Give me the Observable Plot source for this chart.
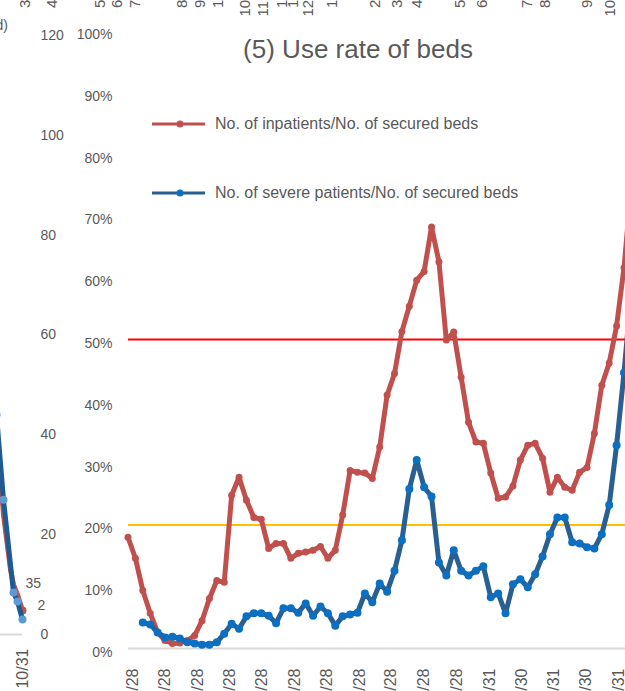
<!DOCTYPE html>
<html>
<head>
<meta charset="utf-8">
<script src="https://cdn.jsdelivr.net/npm/d3@7"></script>
<script src="https://cdn.jsdelivr.net/npm/@observablehq/plot@0.6"></script>
<style>
  body { margin: 0; background: #fff; }
  #wrap { position: relative; width: 625px; height: 691px; overflow: hidden; background: #fff;
          font-family: "Liberation Sans", Arial, sans-serif; color: #595959; }
  #wrap > .layer { position: absolute; left: 0; top: 0; }
  .title { position: absolute; left: 0; width: 716px; top: 34px; text-align: center; font-size: 26px; color: #595959; white-space: nowrap; }
  .legend { position: absolute; left: 150px; font-size: 16px; color: #595959; white-space: nowrap; display: flex; align-items: center; }
  .legend svg { margin-right: 8px; }
</style>
</head>
<body>
<div id="wrap"></div>
<script>
// ---------- data ----------
const dates = [
  "2020-04-23","2020-04-30","2020-05-07","2020-05-14","2020-05-21","2020-05-28","2020-06-04","2020-06-11",
  "2020-06-18","2020-06-25","2020-07-02","2020-07-09","2020-07-16","2020-07-23","2020-07-30","2020-08-06",
  "2020-08-13","2020-08-20","2020-08-27","2020-09-03","2020-09-10","2020-09-17","2020-09-24","2020-10-01",
  "2020-10-08","2020-10-15","2020-10-22","2020-10-29","2020-11-05","2020-11-12","2020-11-19","2020-11-26",
  "2020-12-03","2020-12-10","2020-12-17","2020-12-24","2020-12-31","2021-01-07","2021-01-14","2021-01-21",
  "2021-01-28","2021-02-04","2021-02-11","2021-02-18","2021-02-25","2021-03-04","2021-03-11","2021-03-18",
  "2021-03-25","2021-04-01","2021-04-08","2021-04-15","2021-04-22","2021-04-29","2021-05-06","2021-05-13",
  "2021-05-20","2021-05-27","2021-06-03","2021-06-10","2021-06-17","2021-06-24","2021-07-01","2021-07-08",
  "2021-07-15","2021-07-22","2021-07-29","2021-08-05","2021-08-12"
];
// No. of inpatients / No. of secured beds (%)
const inpatientRate = [
  18.0,14.6,9.4,5.7,2.6,1.3,0.8,0.9,1.3,2.1,4.5,8.1,11.0,10.7,24.8,27.7,24.0,21.2,20.9,16.2,
  17.0,17.0,14.6,15.4,15.6,15.9,16.5,14.6,15.9,21.6,28.8,28.5,28.4,27.5,32.6,41.0,44.5,51.3,55.4,59.6,
  61.0,68.2,62.6,49.9,51.2,43.9,36.6,33.4,33.2,28.4,24.3,24.5,26.3,30.5,32.9,33.2,30.8,25.3,27.7,26.1,
  25.6,28.5,29.3,34.8,42.6,46.2,52.2,61.6,75.0
];
// No. of severe patients / No. of secured beds (%)
const severeRate = [
  null,null,4.2,3.9,2.6,1.8,1.9,1.6,1.0,0.8,0.6,0.6,1.0,2.4,4.0,3.2,5.2,5.7,5.7,5.3,
  4.1,6.5,6.5,5.8,7.3,5.3,6.8,5.7,3.7,5.2,5.5,5.8,8.9,7.5,10.5,9.2,12.6,17.5,25.8,30.5,
  26.1,24.6,13.9,11.8,15.9,12.6,11.8,12.6,13.3,8.3,8.9,5.7,10.4,11.2,9.9,12.0,14.9,18.5,21.2,21.2,
  17.2,17.0,16.4,16.2,18.5,23.2,32.9,44.6,58.0
];
const yTicks = [0,10,20,30,40,50,60,70,80,90,100];
const xTickDates = [
  "2020-04-28","2020-05-28","2020-06-28","2020-07-28","2020-08-28","2020-09-28","2020-10-28","2020-11-28",
  "2020-12-28","2021-01-28","2021-02-28","2021-03-31","2021-04-30","2021-05-31","2021-06-30","2021-07-31"
];
const xDomain = ["2020-04-23","2021-08-05"];
const warnLevelRed = 50;
const warnLevelOrange = 20;
const seriesNames = ["No. of inpatients/No. of secured beds","No. of severe patients/No. of secured beds"];
const titleText = "(5) Use rate of beds";

// neighbouring (cropped) chart on the left
const leftDates = ["2021-10-05","2021-10-12","2021-10-19","2021-10-22","2021-10-26","2021-10-31"];
const leftRed   = [42, 24, 13, 10, 8, 4.8];
const leftBlue  = [44, 27, null, 8.4, 6.6, 3.0];
const leftTicks = [0,20,40,60,80,100,120];
const leftXTick = ["2021-10-31"];
const leftDataLabels = ["35","2"];
const leftLabelValues = [10.2, 5.8];

// cropped tick labels of the chart above (only first characters visible)
const topFrags = ["3","4","5","6","7","8","9","1","10","11","1","1","12","1","2","3","4","5","6","7","8","9","10"];
const topFragX = [25,52,100,117,135,182,200,218,245,263,282,293,308,332,375,397,417,460,482,527,545,587,610];
const leftUnitText = "d)";

// ---------- build ----------
const P = d => new Date(d + "T00:00:00Z");
const rows = dates.map((d, i) => ({date: P(d), red: inpatientRate[i], blue: severeRate[i]}));
const fmt = d3.utcFormat("%-m/%-d");
const font = "'Liberation Sans', Arial, sans-serif";

const wrap = document.getElementById("wrap");

// left cropped chart
const leftRows = leftDates.map((d, i) => ({date: P(d), red: leftRed[i], blue: leftBlue[i]}));
const lastLeft = leftRows[leftRows.length - 1];
const left = Plot.plot({
  width: 72, height: 691,
  marginLeft: 0, marginRight: 50, marginTop: 35, marginBottom: 57,
  style: {background: "transparent", fontFamily: font, fontSize: "14px", color: "#595959"},
  x: {type: "utc", domain: [P("2021-10-09"), P("2021-10-31")]},
  y: {domain: [0, 120]},
  marks: [
    Plot.axisY({anchor: "right", ticks: leftTicks, tickSize: 0, tickPadding: 18, label: null}),
    Plot.axisX({ticks: leftXTick.map(P), tickFormat: fmt, tickRotate: -90, tickSize: 0, tickPadding: 14, label: null, fontSize: 16}),
    Plot.ruleY([0], {stroke: "#d9d9d9", strokeWidth: 2}),
    Plot.line(leftRows, {x: "date", y: "red", stroke: "#c0504d", strokeWidth: 5, defined: d => d.red != null}),
    Plot.dot(leftRows.filter(d => d.red != null).slice(-1), {x: "date", y: "red", r: 4, fill: "#c0504d"}),
    Plot.line(leftRows.filter(d => d.blue != null), {x: "date", y: "blue", stroke: "#1f5b93", strokeWidth: 5}),
    Plot.dot(leftRows.filter(d => d.blue != null), {x: "date", y: "blue", r: 4, fill: "#5b9bd5"}),
    Plot.text([{date: lastLeft.date, v: leftLabelValues[0], t: leftDataLabels[0]}], {x: "date", y: "v", text: "t", textAnchor: "start", dx: 3, fontSize: 14}),
    Plot.text([{date: lastLeft.date, v: leftLabelValues[1], t: leftDataLabels[1]}], {x: "date", y: "v", text: "t", textAnchor: "start", dx: 15, fontSize: 14})
  ]
});
left.classList.add("layer");

// main chart
const main = Plot.plot({
  width: 625, height: 691,
  marginLeft: 128, marginRight: 0, marginTop: 30, marginBottom: 43,
  style: {background: "transparent", fontFamily: font, fontSize: "14px", color: "#595959"},
  x: {type: "utc", domain: xDomain.map(P), range: [127.5, 623.5]},
  y: {domain: [0, 100]},
  marks: [
    Plot.axisY({ticks: yTicks, tickSize: 0, tickPadding: 16, tickFormat: d => d + "%", label: null, dy: 4}),
    Plot.axisX({ticks: xTickDates.map(P), tickFormat: fmt, tickRotate: -90, tickSize: 0, tickPadding: 20, label: null, fontSize: 16}),
    Plot.ruleY([0], {stroke: "#d9d9d9", strokeWidth: 2}),
    Plot.ruleY([warnLevelRed], {stroke: "#ff0000", strokeWidth: 2}),
    Plot.ruleY([warnLevelOrange], {stroke: "#ffc000", strokeWidth: 2}),
    Plot.line(rows, {x: "date", y: "red", stroke: "#c0504d", strokeWidth: 5}),
    Plot.dot(rows, {x: "date", y: "red", r: 3.5, fill: "#c0504d"}),
    Plot.line(rows.filter(d => d.blue != null), {x: "date", y: "blue", stroke: "#2a5f91", strokeWidth: 5}),
    Plot.dot(rows.filter(d => d.blue != null), {x: "date", y: "blue", r: 4, fill: "#0b6fc3"})
  ]
});
main.classList.add("layer");

wrap.appendChild(left);
wrap.appendChild(main);

// overlay: cropped fragments at top + unit label
const ov = d3.select(wrap).append("svg").attr("class", "layer")
  .attr("width", 625).attr("height", 691).style("pointer-events", "none")
  .style("font-family", font).style("fill", "#595959");
ov.selectAll("text.frag").data(topFrags).join("text").attr("class", "frag")
  .attr("transform", (t, i) => `translate(${topFragX[i]},${8 + 8.5 * (t.length - 1)}) rotate(-90)`)
  .attr("dy", "0.35em").attr("font-size", 15).text(t => t);
ov.append("text").attr("x", 8).attr("y", 30).attr("text-anchor", "end").attr("font-size", 14).text(leftUnitText);

// title
const title = document.createElement("div");
title.className = "title"; title.textContent = titleText;
wrap.appendChild(title);

// legend
const legendColors = [["#c0504d", "#c0504d"], ["#2a5f91", "#0b6fc3"]];
const legendTops = [113, 182];
seriesNames.forEach((name, i) => {
  const item = document.createElement("div");
  item.className = "legend";
  item.style.top = legendTops[i] + "px";
  const s = d3.create("svg").attr("width", 57).attr("height", 22);
  s.append("line").attr("x1", 2).attr("x2", 55).attr("y1", 11).attr("y2", 11).attr("stroke", legendColors[i][0]).attr("stroke-width", 3);
  s.append("circle").attr("cx", 30).attr("cy", 11).attr("r", 3.5).attr("fill", legendColors[i][1]);
  item.appendChild(s.node());
  const t = document.createElement("span"); t.textContent = name;
  item.appendChild(t);
  wrap.appendChild(item);
});
</script>
</body>
</html>
